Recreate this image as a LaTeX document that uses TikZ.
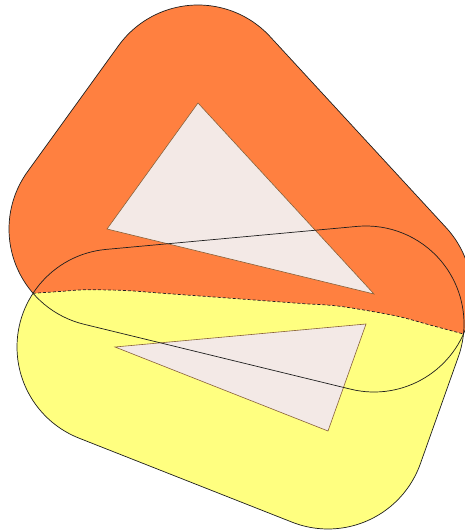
\documentclass[tikz,border=0pt]{standalone}
\usetikzlibrary{calc}
\definecolor{orangec}{RGB}{255,128,64}
\definecolor{yellowc}{RGB}{255,255,128}
\definecolor{pinkc}{RGB}{243,233,230}
\definecolor{brownc}{RGB}{135,95,55}
\definecolor{linec}{RGB}{30,30,30}
\def\rad{98pt}
% rounded (offset) triangle through three named vertices, counterclockwise
\newcommand\roundtri[4]{%
  \path[#1] let \p1=($(#3)-(#2)$), \p2=($(#4)-(#3)$), \p3=($(#2)-(#4)$),
    \n1={atan2(\y1,\x1)-90}, \n2={atan2(\y2,\x2)-90}, \n3={atan2(\y3,\x3)-90}
  in ($(#2)+(\n1:\rad)$) -- ($(#3)+(\n1:\rad)$)
     arc[start angle=\n1, end angle={\n1+mod(\n2-\n1+720,360)}, radius=\rad]
     -- ($(#4)+(\n2:\rad)$)
     arc[start angle=\n2, end angle={\n2+mod(\n3-\n2+720,360)}, radius=\rad]
     -- ($(#2)+(\n3:\rad)$)
     arc[start angle=\n3, end angle={\n3+mod(\n1-\n3+720,360)}, radius=\rad]
     -- cycle;%
}
\tikzset{
  shapeoutline/.style={draw=linec, line width=0.7pt},
  innertri/.style={fill=pinkc, draw=brownc, line width=0.6pt, line join=miter},
  bisect/.style={draw=linec, line width=0.7pt, dash pattern=on 3pt off 2pt}
}
\begin{document}
\begin{tikzpicture}[x=1pt,y=1pt]
\useasboundingbox (0,0) rectangle (465,532);
\coordinate (A1) at (107,303);
\coordinate (A2) at (198,429);
\coordinate (A3) at (374,238);
\coordinate (B1) at (115,185);
\coordinate (B2) at (366,208);
\coordinate (B3) at (328,101);
% yellow part (below the bisector)
\begin{scope}
  \clip (-20,235.1) -- plot[smooth,tension=0.5] coordinates {(33,238.7) (60,240.5) (85,242.2) (125,241.5) (167,238.4) (233,233.6) (300,228.6) (340,225.7) (395,216.3) (430,207) (463.5,198)} -- (530,180.3) -- (530,-60) -- (-20,-60) -- cycle;
  \roundtri{fill=yellowc}{B1}{B3}{B2}
\end{scope}
% orange part (above the bisector)
\begin{scope}
  \clip (-20,235.1) -- plot[smooth,tension=0.5] coordinates {(33,238.7) (60,240.5) (85,242.2) (125,241.5) (167,238.4) (233,233.6) (300,228.6) (340,225.7) (395,216.3) (430,207) (463.5,198)} -- (530,180.3) -- (530,600) -- (-20,600) -- cycle;
  \roundtri{fill=orangec}{A1}{A3}{A2}
\end{scope}
% inner triangles
\draw[innertri] (A1) -- (A2) -- (A3) -- cycle;
\draw[innertri] (B1) -- (B2) -- (B3) -- cycle;
% bisector
\draw[bisect] plot[smooth,tension=0.5] coordinates {(33,238.7) (60,240.5) (85,242.2) (125,241.5) (167,238.4) (233,233.6) (300,228.6) (340,225.7) (395,216.3) (430,207) (463.5,198)};
% full outlines of both offset shapes
\roundtri{shapeoutline}{B1}{B3}{B2}
\roundtri{shapeoutline}{A1}{A3}{A2}
\end{tikzpicture}
\end{document}
